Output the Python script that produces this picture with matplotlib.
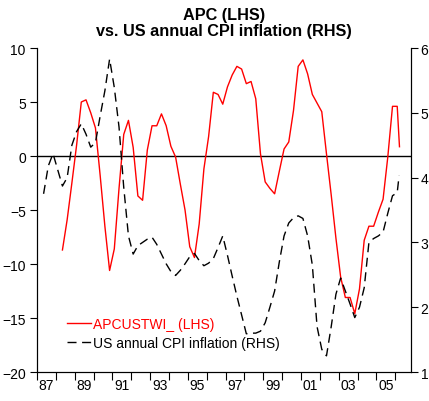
import numpy as np
import matplotlib
matplotlib.use("Agg")
from matplotlib import pyplot as plt

plt.rcParams["font.family"] = ["Liberation Sans", "DejaVu Sans"]

# APCUSTWI_ (LHS), quarterly, plus a final partial reading
apc_start = 1988.35
apc_values = [
    -8.7, -5.9, -2.5,
    1.0, 5.0, 5.2, 4.0,
    2.6, -1.8, -6.5, -10.6,
    -8.6, -3.0, 2.0, 3.3,
    0.8, -3.7, -4.1, 0.55,
    2.8, 2.8, 3.9, 2.8,
    0.9, -0.1, -2.6, -5.0,
    -8.4, -9.4, -6.3, -1.2,
    1.8, 5.9, 5.7, 4.8,
    6.4, 7.5, 8.3, 8.05,
    6.7, 6.9, 5.3, 0.2,
    -2.4, -3.0, -3.5, -1.4,
    0.65, 1.3, 4.2, 8.3,
    8.9, 7.6, 5.7, 4.9,
    4.1, 0.2, -3.6, -7.6,
    -11.2, -13.1, -13.1, -14.6,
    -12.3, -7.8, -6.5, -6.5,
    -5.2, -4.0, -0.1, 4.6,
    4.6,
]
apc_last = (2006.22, 0.86)

# US annual CPI inflation (RHS), quarterly, plus a final partial reading
cpi_start = 1987.35
cpi_values = [
    3.75, 4.18, 4.37,
    4.12, 3.87, 4.0, 4.5,
    4.71, 4.83, 4.67, 4.47,
    4.54, 4.95, 5.34, 5.83,
    5.39, 4.78, 3.85, 3.1,
    2.82, 2.95, 3.0, 3.05,
    3.08, 2.97, 2.82, 2.67,
    2.55, 2.49, 2.57, 2.67,
    2.78, 2.83, 2.72, 2.64,
    2.68, 2.75, 2.92, 3.1,
    2.8, 2.48, 2.17, 1.88,
    1.59, 1.6, 1.6, 1.63,
    1.76, 2.0, 2.25, 2.7,
    3.1, 3.3, 3.38, 3.41,
    3.37, 3.1, 2.65, 1.7,
    1.35, 1.25, 1.7, 2.2,
    2.45, 2.25, 2.05, 1.84,
    2.0, 2.3, 3.0, 3.06,
    3.1, 3.16, 3.45, 3.72,
    3.77,
]
cpi_last = (2006.2, 4.03)

year_labels = ["87", "89", "91", "93", "95", "97", "99", "01", "03", "05"]

apc_x = list(apc_start + 0.25 * np.arange(len(apc_values))) + [apc_last[0]]
apc_y = apc_values + [apc_last[1]]
cpi_x = list(cpi_start + 0.25 * np.arange(len(cpi_values))) + [cpi_last[0]]
cpi_y = cpi_values + [cpi_last[1]]

fig = plt.figure(figsize=(4.29, 4.02), dpi=100)
ax = fig.add_axes([0.0862, 0.0721, 0.8718, 0.806])
ax2 = ax.twinx()

ax.axhline(0, color="black", lw=1.0, zorder=1)
l1, = ax.plot(apc_x, apc_y, color="#ff0000", lw=1.0, label="APCUSTWI_ (LHS)", zorder=3)
l2, = ax2.plot(cpi_x, cpi_y, color="black", lw=1.0, dashes=(6.5, 4),
               label="US annual CPI inflation (RHS)")

ax.set_xlim(1987.0, 2006.83)
ax.set_ylim(-20, 10)
ax2.set_ylim(1, 6)
ax.set_yticks([-20, -15, -10, -5, 0, 5, 10])
ax2.set_yticks([1, 2, 3, 4, 5, 6])

# year boundaries get the tick marks, labels sit mid-year on odd years
ax.set_xticks(np.arange(1987, 2007))
ax.set_xticklabels([])
ax.set_xticks([int("19" + s) + 0.5 if int(s) > 50 else int("20" + s) + 0.5
               for s in year_labels], minor=True)
ax.set_xticklabels(year_labels, minor=True)
ax.tick_params(axis="x", which="major", length=6, width=0.8, direction="out")
ax.tick_params(axis="x", which="minor", length=0, pad=4, labelsize=10)
ax.tick_params(axis="y", length=5, width=0.8, labelsize=10, pad=3)
ax2.tick_params(axis="y", length=5, width=0.8, labelsize=10, pad=2)

for a in (ax, ax2):
    a.spines["top"].set_visible(False)
    for s in ("left", "right", "bottom"):
        a.spines[s].set_linewidth(0.8)

ax2.legend(handles=[l1, l2], loc="lower left", bbox_to_anchor=(0.065, 0.052),
           frameon=False, fontsize=10, handlelength=1.75, handletextpad=0.1,
           labelspacing=0.35, borderaxespad=0, labelcolor=["#ff0000", "black"])

fig.text(0.522, 0.962, "APC (LHS)", ha="center", va="center",
         fontsize=11.7, fontweight="bold")
fig.text(0.522, 0.921, "vs. US annual CPI inflation (RHS)", ha="center",
         va="center", fontsize=11.7, fontweight="bold")

fig.savefig("out.png", dpi=100)
